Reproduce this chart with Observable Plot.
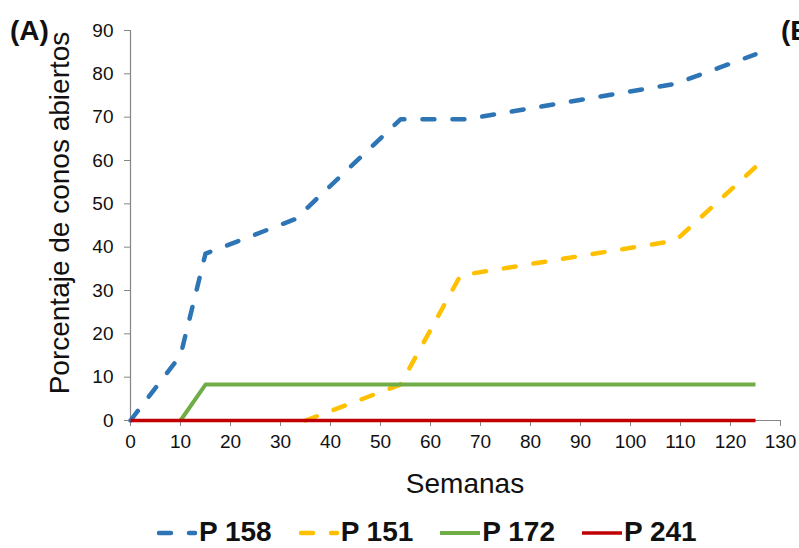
<!DOCTYPE html>
<html>
<head>
<meta charset="utf-8">
<script src="https://cdn.jsdelivr.net/npm/d3@7"></script>
<script src="https://cdn.jsdelivr.net/npm/@observablehq/plot@0.6"></script>
<style>
  html, body { margin: 0; padding: 0; background: #fff; }
  #wrap { position: relative; width: 799px; height: 548px; overflow: hidden; font-family: "Liberation Sans", Arial, sans-serif; color: #111; }
  #chart { position: absolute; left: 0; top: 0; }
  .lbl { position: absolute; white-space: nowrap; line-height: 28px; font-size: 28px; }
  .panel { position: absolute; white-space: nowrap; font-weight: bold; font-size: 28px; line-height: 28px; }
  #legend { position: absolute; top: 520px; left: 157px; display: flex; gap: 27px; }
  .item { display: flex; align-items: center; gap: 2px; font-weight: bold; font-size: 28px; line-height: 24px; }
  .item svg { display: block; margin-top: 2px; }
</style>
</head>
<body>
<div id="wrap">
  <div id="chart"></div>
  <div class="panel" style="left:10px; top:17px;">(A)</div>
  <div class="panel" style="left:781px; top:17px;">(B)</div>
  <div class="lbl" style="left:60px; top:213px; transform: translate(-50%,-50%) rotate(-90deg);">Porcentaje de conos abiertos</div>
  <div class="lbl" style="left:465px; top:484px; transform: translate(-50%,-50%);">Semanas</div>
  <div id="legend"></div>
</div>
<script>
// ---- data ----
const seriesNames = ["P 158", "P 151", "P 172", "P 241"];
const seriesColors = ["#2E75B6", "#FFC000", "#70AD47", "#C00000"];
const seriesDashed = [true, true, false, false];
const seriesWidths = [4.5, 4.5, 4, 3.5];

const weeksP158 = [0, 10, 15, 33, 54, 67, 109, 125];
const valuesP158 = [0, 15, 38.5, 46.5, 69.5, 69.5, 77.7, 84.5];

const weeksP151 = [35, 54, 66, 109, 125];
const valuesP151 = [0, 8.3, 33.5, 41.5, 58.5];

const weeksP172 = [10, 15, 125];
const valuesP172 = [0, 8.3, 8.3];

const weeksP241 = [0, 125];
const valuesP241 = [0, 0];

const xTicks = [0, 10, 20, 30, 40, 50, 60, 70, 80, 90, 100, 110, 120, 130];
const yTicks = [0, 10, 20, 30, 40, 50, 60, 70, 80, 90];

const allWeeks = [weeksP158, weeksP151, weeksP172, weeksP241];
const allValues = [valuesP158, valuesP151, valuesP172, valuesP241];

const rows = seriesNames.map((name, i) =>
  allWeeks[i].map((w, j) => ({serie: name, semana: w, pct: allValues[i][j]}))
);

const axisGray = "#868686";
const dash = "12,18";

const lineMarks = rows.map((data, i) =>
  Plot.line(data, {
    x: "semana", y: "pct",
    stroke: seriesColors[i],
    strokeWidth: seriesWidths[i],
    strokeDasharray: seriesDashed[i] ? dash : null,
    strokeLinecap: seriesDashed[i] ? "round" : "butt",
    strokeLinejoin: "round"
  })
);

const chart = Plot.plot({
  width: 799,
  height: 500,
  marginLeft: 130,
  marginRight: 19,
  marginTop: 30,
  marginBottom: 80,
  x: {domain: [0, 130]},
  y: {domain: [0, 90]},
  style: {fontFamily: "'Liberation Sans', Arial, sans-serif", fontSize: "19px", color: "#111", background: "transparent"},
  marks: [
    Plot.axisX({ticks: xTicks, tickSize: 6, tickPadding: 8, label: null, stroke: axisGray, fontSize: 19, tickFormat: d => String(d)}),
    Plot.axisY({ticks: yTicks, tickSize: 6, tickPadding: 11, label: null, stroke: axisGray, fontSize: 19, tickFormat: d => String(d)}),
    Plot.ruleX([0], {stroke: axisGray, strokeWidth: 1.2}),
    Plot.ruleY([0], {stroke: axisGray, strokeWidth: 1.2}),
    ...lineMarks
  ]
});
document.getElementById("chart").appendChild(chart);

// ---- legend ----
const legend = document.getElementById("legend");
seriesNames.forEach((name, i) => {
  const item = document.createElement("div");
  item.className = "item";
  const ns = "http://www.w3.org/2000/svg";
  const sw = document.createElementNS(ns, "svg");
  sw.setAttribute("width", "40");
  sw.setAttribute("height", "10");
  const ln = document.createElementNS(ns, "line");
  const cap = seriesDashed[i] ? 2 : 0;
  ln.setAttribute("x1", String(cap));
  ln.setAttribute("x2", String(40 - cap));
  ln.setAttribute("y1", "5");
  ln.setAttribute("y2", "5");
  ln.setAttribute("stroke", seriesColors[i]);
  ln.setAttribute("stroke-width", String(seriesWidths[i]));
  if (seriesDashed[i]) {
    ln.setAttribute("stroke-dasharray", dash);
    ln.setAttribute("stroke-linecap", "round");
  }
  sw.appendChild(ln);
  const tx = document.createElement("span");
  tx.textContent = name;
  item.appendChild(sw);
  item.appendChild(tx);
  legend.appendChild(item);
});
</script>
</body>
</html>
